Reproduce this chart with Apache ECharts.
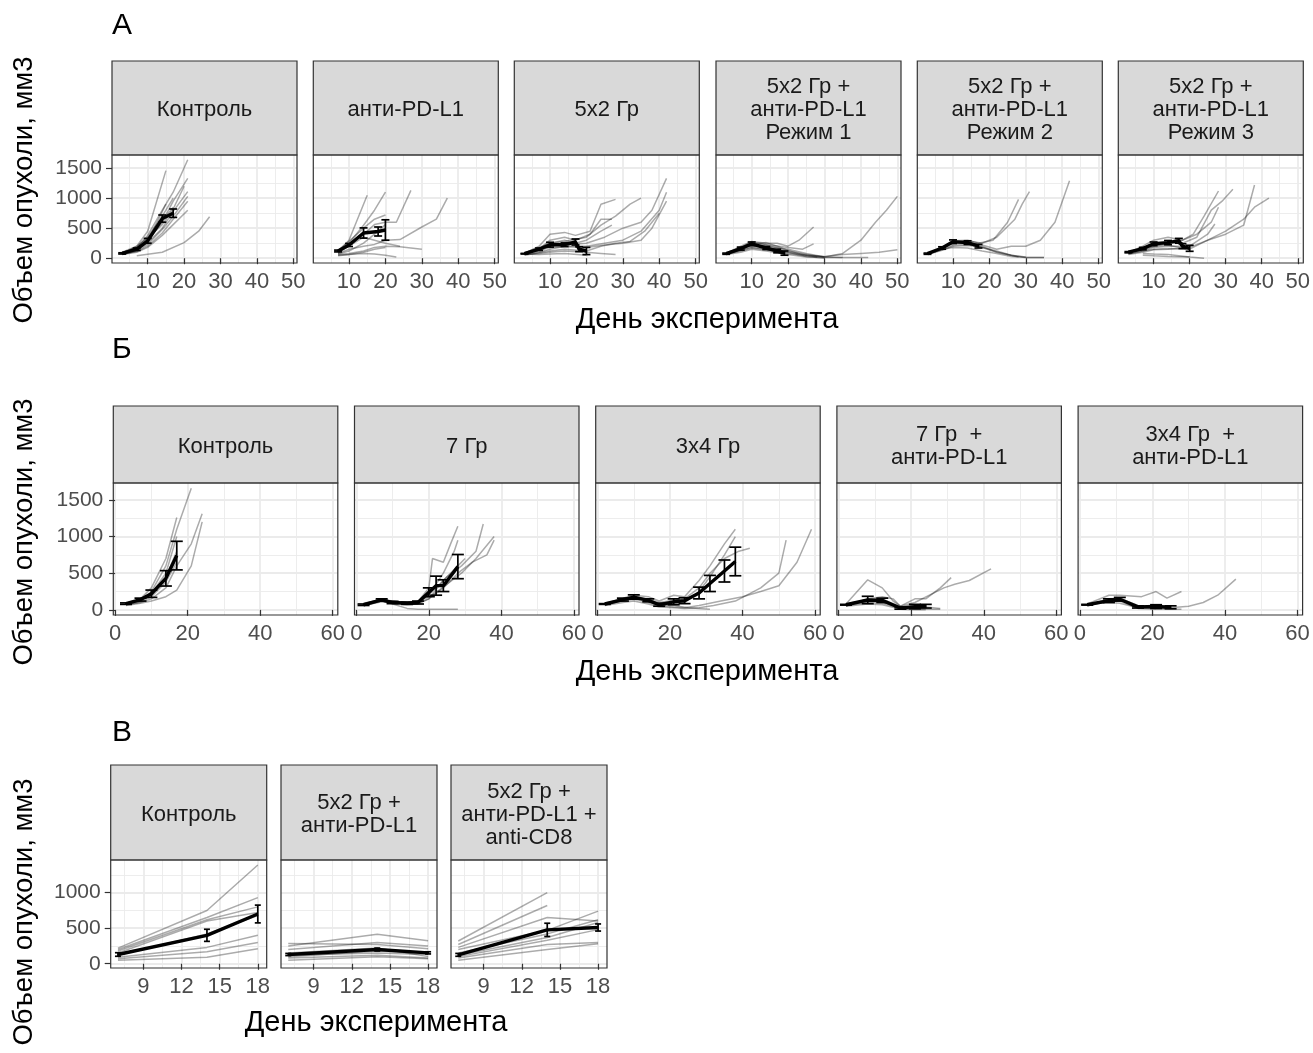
<!DOCTYPE html>
<html><head><meta charset="utf-8">
<script src="https://cdn.jsdelivr.net/npm/echarts@6/dist/echarts.min.js"></script>
<style>html,body{margin:0;padding:0;background:#fff}#c{width:1313px;height:1053px}</style>
</head><body><div id="c"></div><script>
// ---------------- DATA ----------------
const A_strips = ['Контроль','анти-PD-L1','5x2 Гр','5x2 Гр +\nанти-PD-L1\nРежим 1','5x2 Гр +\nанти-PD-L1\nРежим 2','5x2 Гр +\nанти-PD-L1\nРежим 3'];
const B_strips = ['Контроль','7 Гр','3x4 Гр','7 Гр  +\nанти-PD-L1','3x4 Гр  +\nанти-PD-L1'];
const V_strips = ['Контроль','5x2 Гр +\nанти-PD-L1','5x2 Гр +\nанти-PD-L1 +\nanti-CD8'];

const A_xMajor = [10,20,30,40,50], A_xMinor = [5,15,25,35,45];
const A_yMajor = [0,500,1000,1500], A_yMinor = [250,750,1250];
const B_xMajor = [0,20,40,60], B_xMinor = [10,30,50];
const B_yMajor = [0,500,1000,1500], B_yMinor = [250,750,1250];
const V_xMajor = [9,12,15,18], V_xMinor = [7.5,10.5,13.5,16.5];
const V_yMajor = [0,500,1000], V_yMinor = [250,750,1250];

// A1 Контроль
const A1_lines = [
 [[3,90],[7,180],[10,380],[14,800],[17,1100],[21,1640]],
 [[3,70],[7,200],[10,450],[15,1460]],
 [[3,100],[7,150],[10,300],[14,600],[17,950],[21,1330]],
 [[3,80],[7,140],[10,260],[14,500],[17,780],[21,1110]],
 [[3,60],[7,120],[10,230],[14,480],[17,700],[21,1030]],
 [[3,90],[7,170],[10,350],[14,700],[17,1000]],
 [[3,80],[7,130],[10,280],[14,620],[17,850]],
 [[3,70],[7,110],[10,200],[14,420],[17,650],[21,950]],
 [[7,40],[14,100],[20,260],[24,450],[27,690]],
 [[3,100],[7,200],[10,330],[14,560],[17,820],[20,1200]],
 [[3,80],[7,160],[10,300],[13,650],[15,900]],
 [[3,60],[7,100],[10,180],[14,380],[17,560],[21,800]]
];
const A1_mean = [[3,80],[7,150],[10,290],[14,660],[17,750]];
const A1_err = [10,20,40,60,70];

// A2 анти-PD-L1
const A2_lines = [
 [[7,110],[10,300],[12,600],[15,1050]],
 [[7,100],[10,250],[14,550],[17,800],[20,1100]],
 [[7,130],[10,280],[14,500],[17,650],[20,720]],
 [[7,90],[10,200],[14,400],[17,560],[20,600],[23,600],[27,1130]],
 [[7,80],[10,150],[14,200],[17,230],[20,300],[24,310],[30,520],[34,650],[37,1000]],
 [[7,60],[10,80],[14,120],[17,180],[20,200],[24,190],[30,150]],
 [[7,50],[10,60],[14,80],[17,70],[20,50],[23,20]],
 [[7,70],[10,120],[14,250],[17,400],[20,560]],
 [[7,100],[10,200],[14,350],[17,300],[20,250],[24,200]],
 [[7,40],[10,60],[14,100],[17,150],[20,180]]
];
const A2_mean = [[7,120],[10,220],[14,420],[18,445],[20,470]];
const A2_err = [15,25,85,75,170];

// A3 5x2 Гр
const A3_lines = [
 [[3,80],[7,200],[10,400],[14,430],[17,380],[21,450],[24,900],[28,980]],
 [[3,70],[7,150],[10,300],[14,350],[17,300],[21,400],[24,650],[27,650]],
 [[3,90],[7,180],[10,250],[14,280],[20,350],[24,550],[28,700],[32,900],[35,1000]],
 [[3,80],[7,120],[10,200],[14,220],[20,250],[25,350],[30,500],[35,600],[38,800],[42,1330]],
 [[3,70],[7,100],[10,150],[14,200],[20,200],[25,250],[30,300],[35,450],[40,800],[42,1100]],
 [[3,80],[7,140],[10,180],[14,190],[20,180],[25,220],[30,250],[35,300],[38,500],[42,950]],
 [[3,60],[7,80],[10,100],[14,120],[20,100],[24,80],[28,60]],
 [[3,70],[7,60],[10,70],[14,80],[20,50]],
 [[3,90],[7,160],[10,250],[14,300],[17,250],[20,300],[24,450],[27,550]],
 [[3,50],[7,90],[10,120],[14,150],[20,120],[24,200],[28,250],[32,280],[36,450],[40,750]]
];
const A3_mean = [[3,75],[7,150],[10,225],[14,225],[17,270],[18,150],[20,120]];
const A3_err = [5,20,40,30,50,40,60];

// A4 5x2 Гр + анти-PD-L1 Режим 1
const A4_lines = [
 [[3,80],[7,200],[10,280],[14,250],[17,250],[20,200],[23,300],[27,520]],
 [[3,70],[7,180],[10,270],[14,230],[20,180],[24,150],[27,240]],
 [[3,60],[7,150],[10,220],[14,200],[20,150],[25,80],[30,20],[35,80],[40,300],[44,600],[47,800],[50,1030]],
 [[3,80],[7,140],[10,200],[14,180],[20,100],[25,50],[30,30],[35,60],[40,80],[45,100],[50,140]],
 [[3,70],[7,130],[10,180],[14,150],[20,80],[25,40],[30,20],[35,10],[42,10]],
 [[3,90],[7,170],[10,250],[14,220],[20,120],[25,60],[30,20]],
 [[3,60],[7,100],[10,150],[14,120],[20,60],[25,20],[30,10],[35,10]],
 [[3,80],[7,160],[10,230],[14,260],[17,200],[20,130],[24,60],[28,20]],
 [[3,70],[7,120],[10,170],[14,140],[20,100],[25,30],[30,0]]
];
const A4_mean = [[3,75],[7,160],[10,240],[14,170],[17,120],[19,85]];
const A4_err = [10,25,30,25,30,35];

// A5 Режим 2
const A5_lines = [
 [[3,80],[7,180],[10,290],[14,300],[17,250],[21,300],[25,600],[28,980]],
 [[3,70],[7,170],[10,270],[14,290],[18,250],[22,350],[27,650],[29,900],[31,1110]],
 [[3,80],[7,160],[10,250],[14,260],[18,220],[22,150],[26,200],[30,200],[34,300],[38,600],[42,1290]],
 [[3,60],[7,130],[10,200],[14,210],[18,200],[22,100],[26,50],[30,10],[35,10]],
 [[3,70],[7,140],[10,220],[14,230],[18,180],[22,120],[26,50],[30,20]],
 [[3,90],[7,150],[10,180],[14,170],[18,120],[22,80],[26,30],[30,10],[35,10]],
 [[3,80],[7,170],[10,260],[14,280],[17,200],[21,120],[25,60],[28,20]]
];
const A5_mean = [[3,75],[7,170],[10,275],[14,260],[17,200]];
const A5_err = [10,20,30,30,30];

// A6 Режим 3
const A6_lines = [
 [[3,90],[7,200],[10,300],[14,350],[18,300],[21,400],[24,700],[28,1120]],
 [[3,80],[7,170],[10,250],[14,270],[18,250],[22,350],[26,800],[29,950],[32,1150]],
 [[3,100],[7,150],[10,200],[14,250],[18,300],[22,400],[26,600],[28,850]],
 [[3,80],[7,120],[10,180],[14,200],[20,200],[25,400],[27,570]],
 [[3,70],[7,120],[10,150],[14,160],[20,150],[25,300],[30,400],[35,550],[38,1220]],
 [[3,60],[7,100],[10,140],[14,150],[20,180],[25,300],[30,450],[35,650],[38,850],[42,1000]],
 [[7,80],[10,70],[14,60],[20,20],[24,0]],
 [[7,50],[10,40],[14,30],[20,20]],
 [[3,90],[7,150],[10,200],[14,220],[17,180],[20,150]]
];
const A6_mean = [[3,100],[7,160],[10,240],[14,260],[17,290],[18,200],[20,165]];
const A6_err = [10,20,30,35,40,40,50];

// B1 Контроль
const B1_lines = [
 [[3,80],[7,120],[10,250],[14,600],[17,1100],[21,1660]],
 [[3,90],[7,150],[10,300],[14,700],[17,1260]],
 [[3,70],[7,100],[10,150],[14,300],[17,600],[21,900],[24,1310]],
 [[3,60],[7,90],[10,120],[14,180],[17,270],[21,600],[24,1200]],
 [[3,80],[7,130],[10,200],[14,450],[17,800]],
 [[3,90],[7,140],[10,220],[14,500],[17,1000]],
 [[3,70],[7,110],[10,180],[14,380],[17,650]]
];
const B1_mean = [[3,85],[7,140],[10,220],[14,430],[17,740]];
const B1_err = [10,20,50,105,195];

// B2 7 Гр
const B2_lines = [
 [[2,80],[7,150],[10,110],[14,90],[17,110],[20,300],[21,700],[24,650],[26,900],[28,1140]],
 [[2,70],[7,130],[10,120],[14,100],[17,120],[20,200],[24,500],[27,800],[28,950]],
 [[2,60],[7,120],[10,80],[14,20],[17,10],[21,10],[28,10]],
 [[2,80],[7,140],[10,100],[14,80],[17,100],[21,250],[25,450],[29,600],[33,800],[35,1170]],
 [[2,70],[7,130],[10,100],[14,100],[17,110],[21,200],[25,350],[29,500],[33,700],[38,1000]],
 [[2,60],[7,110],[10,90],[14,70],[17,80],[20,150],[24,300],[28,500],[32,650],[36,750],[38,950]],
 [[2,90],[7,140],[10,120],[14,100],[17,90],[20,150],[24,400],[28,600],[30,700]]
];
const B2_mean = [[2,70],[7,135],[10,100],[14,90],[17,100],[20,240],[22,330],[24,330],[28,590]];
const B2_err = [10,15,15,15,20,60,130,80,165];

// B3 3x4 Гр
const B3_lines = [
 [[2,80],[7,160],[10,200],[14,180],[17,120],[21,200],[24,180],[28,400],[31,600],[35,900],[38,1100]],
 [[2,70],[7,140],[10,180],[14,150],[17,100],[21,130],[24,150],[28,300],[31,500],[35,700],[39,800],[42,840]],
 [[2,90],[7,150],[10,170],[14,120],[17,60],[21,80],[24,100],[28,250],[31,450],[35,750],[38,1000]],
 [[2,60],[7,100],[10,120],[14,80],[17,40],[21,30],[24,20],[28,30],[32,60],[38,120],[45,300],[50,500],[52,950]],
 [[2,80],[7,120],[10,150],[14,100],[17,60],[21,40],[24,30],[28,60],[34,120],[40,180],[45,250],[50,330],[55,650],[59,1100]],
 [[2,70],[7,130],[10,160],[14,140],[17,80],[21,60],[25,30],[28,20],[31,10]]
];
const B3_mean = [[2,80],[7,140],[10,175],[14,130],[17,70],[21,110],[24,125],[28,230],[31,360],[35,530],[38,660]];
const B3_err = [5,20,30,20,20,40,40,80,110,150,195];

// B4 7 Гр + анти-PD-L1
const B4_lines = [
 [[2,80],[8,410],[12,300],[15,120],[17,50],[21,150],[24,150],[28,300],[31,440]],
 [[2,70],[5,100],[8,150],[12,180],[15,150],[17,50],[21,100],[25,200],[29,300],[32,350],[36,400],[42,560]],
 [[2,60],[8,100],[12,90],[17,20],[21,10],[25,10],[28,10]],
 [[2,70],[8,120],[12,110],[17,30],[21,40],[24,30]],
 [[2,80],[8,140],[12,150],[17,40],[21,50],[24,40],[28,20]],
 [[2,50],[8,80],[12,70],[17,10],[21,0],[24,0]]
];
const B4_mean = [[2,70],[8,135],[12,130],[17,25],[21,45],[24,50]];
const B4_err = [5,50,30,15,30,25];

// B5 3x4 Гр + анти-PD-L1
const B5_lines = [
 [[2,80],[8,200],[11,200],[17,180],[21,250],[24,160],[28,250]],
 [[2,70],[8,150],[11,160],[16,60],[21,30],[25,30],[30,50],[34,100],[38,200],[43,420]],
 [[2,60],[8,110],[11,120],[16,20],[21,10],[25,10],[28,10]],
 [[2,70],[8,130],[11,140],[16,40],[21,30],[25,20]],
 [[2,80],[8,100],[11,90],[16,30],[21,20]]
];
const B5_mean = [[2,70],[8,125],[11,145],[16,40],[21,45],[25,35]];
const B5_err = [5,25,25,15,25,20];

// V1 Контроль
const V1_lines = [
 [[7,220],[14,750],[18,1390]],
 [[7,200],[14,650],[18,930]],
 [[7,180],[14,620],[18,800]],
 [[7,150],[14,600],[18,720]],
 [[7,120],[14,420],[18,680]],
 [[7,90],[14,230],[18,400]],
 [[7,70],[14,170],[18,300]],
 [[7,50],[14,90],[18,210]]
];
const V1_mean = [[7,130],[14,400],[18,700]];
const V1_err = [25,85,125];

// V2 5x2 Гр + анти-PD-L1
const V2_lines = [
 [[7,285],[14,270],[18,210]],
 [[7,250],[14,415],[18,325]],
 [[7,200],[14,300],[18,250]],
 [[7,150],[14,220],[18,100]],
 [[7,100],[14,180],[18,150]],
 [[7,80],[14,120],[18,80]],
 [[7,50],[14,100],[18,70]],
 [[7,120],[14,150],[18,130]]
];
const V2_mean = [[7,130],[14,200],[18,153]];
const V2_err = [15,20,15];

// V3 5x2 Гр + анти-PD-L1 + anti-CD8
const V3_lines = [
 [[7,320],[14,1000]],
 [[7,270],[14,820]],
 [[7,230],[14,650],[18,600]],
 [[7,200],[14,470],[18,740]],
 [[7,150],[14,420],[18,620]],
 [[7,120],[14,370],[18,580]],
 [[7,100],[14,330],[18,480]],
 [[7,80],[14,270],[18,300]],
 [[7,50],[14,200],[18,280]]
];
const V3_mean = [[7,125],[14,477],[18,510]];
const V3_err = [20,93,50];

// ---------------- LAYOUT ----------------
const FONT = "'Liberation Sans', Arial, Helvetica, sans-serif";
const sections = [
 {tag:'А', tagY:28, strips:A_strips,
  panels:[[A1_lines,A1_mean,A1_err],[A2_lines,A2_mean,A2_err],[A3_lines,A3_mean,A3_err],[A4_lines,A4_mean,A4_err],[A5_lines,A5_mean,A5_err],[A6_lines,A6_mean,A6_err]],
  lefts:[112,313.3,514.3,716,917.3,1118.3], width:185, plotTop:155, plotH:108, stripTop:61,
  xMin:0.2, xMax:51, xMajor:A_xMajor, xMinor:A_xMinor, yMin:-80, yMax:1720, yMajor:A_yMajor, yMinor:A_yMinor,
  cap:4, xTitleX:707, xTitleY:320, yTitleY:190},
 {tag:'Б', tagY:352, strips:B_strips,
  panels:[[B1_lines,B1_mean,B1_err],[B2_lines,B2_mean,B2_err],[B3_lines,B3_mean,B3_err],[B4_lines,B4_mean,B4_err],[B5_lines,B5_mean,B5_err]],
  lefts:[113.3,354.5,595.7,836.9,1078.1], width:224.5, plotTop:483, plotH:132, stripTop:406,
  xMin:-0.5, xMax:61.4, xMajor:B_xMajor, xMinor:B_xMinor, yMin:-70, yMax:1730, yMajor:B_yMajor, yMinor:B_yMinor,
  cap:6, xTitleX:707, xTitleY:672, yTitleY:532},
 {tag:'В', tagY:735, strips:V_strips,
  panels:[[V1_lines,V1_mean,V1_err],[V2_lines,V2_mean,V2_err],[V3_lines,V3_mean,V3_err]],
  lefts:[110.7,281,451], width:156, plotTop:860, plotH:108, stripTop:765,
  xMin:6.43, xMax:18.7, xMajor:V_xMajor, xMinor:V_xMinor, yMin:-60, yMax:1460, yMajor:V_yMajor, yMinor:V_yMinor,
  cap:3, xTitleX:376, xTitleY:1023, yTitleY:912}
];

const grids = [], xAxes = [], yAxes = [], series = [], graphics = [];
const GRID_C = '#ebebeb', BORDER_C = '#333333';
const plain = v => String(v);
let gi = 0;
sections.forEach(sec => {
  graphics.push({type:'text', left:112, top:sec.tagY-17, style:{text:sec.tag, font:'30px '+FONT, fill:'#000'}});
  graphics.push({type:'text', x:sec.xTitleX, y:sec.xTitleY, style:{text:'День эксперимента', font:'29px '+FONT, fill:'#000', align:'center', verticalAlign:'middle'}});
  graphics.push({type:'text', x:24, y:sec.yTitleY, rotation:Math.PI/2, style:{text:'Объем опухоли, мм3', font:'27.5px '+FONT, fill:'#000', align:'center', verticalAlign:'middle'}});
  sec.panels.forEach((p, j) => {
    const left = sec.lefts[j];
    grids.push({left:left, top:sec.plotTop, width:sec.width, height:sec.plotH, show:true, backgroundColor:'#fff', borderWidth:0});
    const axBase = {gridIndex:gi, type:'value'};
    xAxes.push(Object.assign({}, axBase, {min:sec.xMin, max:sec.xMax, position:'bottom',
      axisLine:{show:false}, axisTick:{show:true, length:6, customValues:sec.xMajor, lineStyle:{color:BORDER_C, width:1.2}},
      axisLabel:{show:true, customValues:sec.xMajor, formatter:plain, color:'#4d4d4d', fontSize:22, fontFamily:FONT, margin:8},
      splitLine:{show:true, lineStyle:{color:GRID_C, width:1.8}}}));
    xAxes.push(Object.assign({}, axBase, {min:sec.xMin, max:sec.xMax, position:'bottom',
      axisLine:{show:false}, axisTick:{show:false, customValues:sec.xMinor}, axisLabel:{show:false, customValues:sec.xMinor},
      splitLine:{show:true, lineStyle:{color:GRID_C, width:0.9}}}));
    const first = j === 0;
    yAxes.push(Object.assign({}, axBase, {min:sec.yMin, max:sec.yMax, position:'left',
      axisLine:{show:false}, axisTick:{show:first, length:6, customValues:sec.yMajor, lineStyle:{color:BORDER_C, width:1.2}},
      axisLabel:{show:first, customValues:sec.yMajor, formatter:plain, color:'#4d4d4d', fontSize:21, fontFamily:FONT, margin:10},
      splitLine:{show:true, lineStyle:{color:GRID_C, width:1.8}}}));
    yAxes.push(Object.assign({}, axBase, {min:sec.yMin, max:sec.yMax, position:'left',
      axisLine:{show:false}, axisTick:{show:false, customValues:sec.yMinor}, axisLabel:{show:false, customValues:sec.yMinor},
      splitLine:{show:true, lineStyle:{color:GRID_C, width:0.9}}}));
    const xi = gi*2, yi = gi*2;
    const [lines, mean, err] = p;
    lines.forEach(l => series.push({type:'line', xAxisIndex:xi, yAxisIndex:yi, data:l, showSymbol:false, symbol:'none',
      silent:true, z:2, lineStyle:{color:'rgba(0,0,0,0.33)', width:1.5}, animation:false}));
    series.push({type:'line', xAxisIndex:xi, yAxisIndex:yi, data:mean, showSymbol:false, symbol:'none', silent:true, z:4,
      lineStyle:{color:'#000', width:3.4}, animation:false});
    const eb = mean.map((m,k) => [m[0], m[1]-err[k], m[1]+err[k]]);
    const cap = sec.cap;
    series.push({type:'custom', xAxisIndex:xi, yAxisIndex:yi, data:eb, encode:{x:0, y:[1,2]}, z:5, silent:true, animation:false,
      renderItem:(params, api) => {
        const x = api.value(0);
        const a = api.coord([x, api.value(1)]), b = api.coord([x, api.value(2)]);
        const st = {stroke:'#000', lineWidth:1.7};
        return {type:'group', children:[
          {type:'line', shape:{x1:a[0], y1:a[1], x2:b[0], y2:b[1]}, style:st},
          {type:'line', shape:{x1:a[0]-cap, y1:a[1], x2:a[0]+cap, y2:a[1]}, style:st},
          {type:'line', shape:{x1:b[0]-cap, y1:b[1], x2:b[0]+cap, y2:b[1]}, style:st}
        ]};
      }});
    const sh = sec.plotTop - sec.stripTop;
    graphics.push({type:'rect', z:100, shape:{x:left, y:sec.stripTop, width:sec.width, height:sh},
      style:{fill:'#d9d9d9', stroke:BORDER_C, lineWidth:1.2}});
    graphics.push({type:'text', z:101, x:left+sec.width/2, y:sec.stripTop+sh/2+2,
      style:{text:sec.strips[j], font:'22px '+FONT, fill:'#1a1a1a', align:'center', verticalAlign:'middle', lineHeight:23}});
    graphics.push({type:'rect', z:100, shape:{x:left, y:sec.plotTop, width:sec.width, height:sec.plotH},
      style:{fill:'none', stroke:BORDER_C, lineWidth:1.2}});
    gi++;
  });
});

const chart = echarts.init(document.getElementById('c'), null, {renderer:'canvas'});
chart.setOption({
  backgroundColor:'#fff', animation:false,
  grid:grids, xAxis:xAxes, yAxis:yAxes, series:series, graphic:graphics
});
</script></body></html>
